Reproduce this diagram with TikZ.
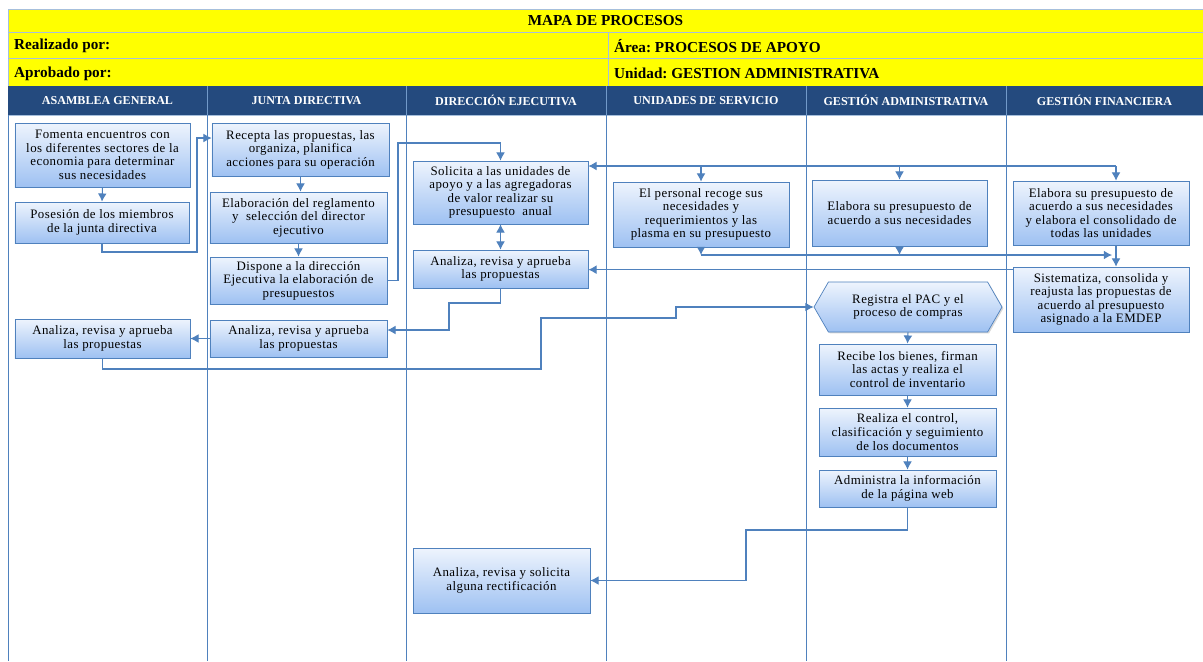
\documentclass[tikz,border=0pt]{standalone}
\usepackage{fontspec}
\setmainfont{Liberation Serif}
\usetikzlibrary{arrows.meta}
\usetikzlibrary{calc}
\usetikzlibrary{shapes.symbols}
\usetikzlibrary{shadows}
\definecolor{lane}{HTML}{4F81BD}
\definecolor{navy}{HTML}{244A7E}
\definecolor{boxtop}{HTML}{EEF4FD}
\definecolor{boxbot}{HTML}{9EC1F2}
\definecolor{grid}{HTML}{A6BFDC}
\definecolor{headyellow}{HTML}{FFFF00}
\newfontfamily\boxfont[LetterSpace=3.5]{Liberation Serif}
\frenchspacing

\begin{document}
\begin{tikzpicture}[x=0.03cm,y=-0.03cm,>={Latex[length=7pt,width=7.5pt]},
  pbox/.style={draw=lane,line width=0.6pt,top color=boxtop,bottom color=boxbot,
    align=center,inner sep=1pt,font=\boxfont\fontsize{11}{11.6}\selectfont,
    drop shadow={opacity=0.3,shadow xshift=1.2pt,shadow yshift=-1.2pt}},
  flow/.style={draw=lane,line width=0.9pt},
  yelltext/.style={font=\fontsize{13}{15}\selectfont\bfseries,inner sep=0pt},
  lanehead/.style={font=\fontsize{10.3}{12}\selectfont\bfseries,text=white,inner sep=0pt}]
\useasboundingbox[fill=white] (0,0) rectangle (1203,661);

% cabecera
\fill[headyellow] (8,9) rectangle (1203,86);
\foreach \y in {9,32,58}{
\draw[grid,line width=0.8pt] (8,\y) -- (1203,\y);
}
\draw[grid,line width=0.8pt] (8,9) -- (8,86);
\draw[grid,line width=0.8pt] (608,32) -- (608,86);
\node[yelltext] (title) at (605.5,21) {MAPA DE PROCESOS};
\node[yelltext,anchor=west] (realiz) at (14,46) {Realizado por:};
\node[yelltext,anchor=west] (area) at (614,46) {Área: PROCESOS DE APOYO};
\node[yelltext,anchor=west] (aprob) at (14,73.5) {Aprobado por:};
\node[yelltext,anchor=west] (unidad) at (614,73.5) {Unidad: GESTION ADMINISTRATIVA};

\fill[navy] (8,86) rectangle (1203,115);
\foreach \x in {207,406,606,806,1006}{
\draw[lane!80!white,line width=0.8pt] (\x,86) -- (\x,115);
}
\foreach \x/\t/\n in {107.5/ASAMBLEA GENERAL/hasam,306.5/JUNTA DIRECTIVA/hjunta,
  506/DIRECCIÓN EJECUTIVA/hdir,706/UNIDADES DE SERVICIO/huni,
  906/GESTIÓN ADMINISTRATIVA/hadm,1104.5/GESTIÓN FINANCIERA/hfin}{
\node[lanehead] (\n) at (\x,100.5) {\t};
}

% carriles
\draw[grid,line width=0.6pt] (8,115) -- (1203,115);
\foreach \x in {8,207,406,606,806,1006}{
\draw[lane,line width=0.8pt] (\x,115) -- (\x,661);
}

% asamblea general
\node[pbox,minimum width=5.25cm,minimum height=1.92cm] (A1) at (102.5,155)
  {Fomenta encuentros con\\los diferentes sectores de la\\economia para determinar\\sus necesidades};
\node[pbox,minimum width=5.22cm,minimum height=1.23cm] (A2) at (102,222.5)
  {Posesión de los miembros\\de la junta directiva};
\node[pbox,minimum width=5.25cm,minimum height=1.17cm] (A3) at (102.5,338.5)
  {Analiza, revisa y aprueba\\las propuestas};

% junta directiva
\node[pbox,minimum width=5.31cm,minimum height=1.59cm] (J1) at (300.5,149.5)
  {Recepta las propuestas, las\\organiza, planifica\\acciones para su operación};
\node[pbox,minimum width=5.31cm,minimum height=1.53cm] (J2) at (298.5,217.5)
  {Elaboración del reglamento\\y \ selección del director\\ejecutivo};
\node[pbox,minimum width=5.31cm,minimum height=1.41cm] (J3) at (298.5,280.5)
  {Dispone a la dirección\\Ejecutiva la elaboración de\\presupuestos};
\node[pbox,minimum width=5.31cm,minimum height=1.11cm] (J4) at (298.5,338.5)
  {Analiza, revisa y aprueba\\las propuestas};

% direccion ejecutiva
\node[pbox,minimum width=5.25cm,minimum height=1.89cm] (D1) at (500.5,192.5)
  {Solicita a las unidades de\\apoyo y a las agregadoras\\de valor realizar su\\presupuesto \ anual};
\node[pbox,minimum width=5.25cm,minimum height=1.14cm] (D2) at (500.5,269)
  {Analiza, revisa y aprueba\\las propuestas};
\node[pbox,minimum width=5.31cm,minimum height=1.95cm] (D3) at (501.5,580.5)
  {Analiza, revisa y solicita\\alguna rectificación};

% unidades de servicio
\node[pbox,minimum width=5.28cm,minimum height=1.95cm] (U1) at (701,214.5)
  {El personal recoge sus\\necesidades y\\requerimientos y las\\plasma en su presupuesto};

% gestion administrativa
\node[pbox,minimum width=5.25cm,minimum height=1.98cm] (G1) at (899.5,213)
  {Elabora su presupuesto de\\acuerdo a sus necesidades};
\node[pbox,shape=signal,signal to=west and east,signal pointer angle=120,
  minimum width=5.64cm,minimum height=1.5cm] (G2) at (908,307)
  {Registra el PAC y el\\proceso de compras};
\node[pbox,minimum width=5.31cm,minimum height=1.53cm] (G3) at (907.5,369.5)
  {Recibe los bienes, firman\\las actas y realiza el\\control de inventario};
\node[pbox,minimum width=5.31cm,minimum height=1.44cm] (G4) at (907.5,432)
  {Realiza el control,\\clasificación y seguimiento\\de los documentos};
\node[pbox,minimum width=5.31cm,minimum height=1.11cm] (G5) at (907.5,488.5)
  {Administra la información\\de la página web};

% gestion financiera
\node[pbox,minimum width=5.28cm,minimum height=1.92cm] (F1) at (1101,213)
  {Elabora su presupuesto de\\acuerdo a sus necesidades\\y elabora el consolidado de\\todas las unidades};
\node[pbox,minimum width=5.28cm,minimum height=1.95cm] (F2) at (1101,299.5)
  {Sistematiza, consolida y\\reajusta las propuestas de\\acuerdo al presupuesto\\asignado a la EMDEP};

% conectores
\coordinate (k1) at (197,252);
\coordinate (k2) at (398,143);
\coordinate (k3) at (449,303);
\coordinate (k4) at (541,369);
\coordinate (k5) at (676,318);
\coordinate (k6) at (1116,166);
\coordinate (k7) at (1112,255);
\coordinate (k8) at ($(F2.north west)+(0,3)$);
\coordinate (k9) at (746,530);

\draw[flow,->] (A1.south) -- (A2.north);
\draw[flow,->] (A2.south) |- (k1) |- ($(J1.west)+(0,-11.5)$);
\draw[flow,->] (J1.south) -- (J1.south |- J2.north);
\draw[flow,->] (J2.south) -- (J3.north);
\draw[flow,->] (J3.east) -| (k2) -| (D1.north);
\draw[flow,<->] (D1.south) -- (D2.north);
\draw[flow,->] (D2.south) |- (k3) |- ($(J4.east)+(0,-8.5)$);
\draw[flow,->] (J4.west) -- (A3.east);
\draw[flow,->] (A3.south) |- (k4) |- (k5) |- (G2.west);

\draw[flow,->] (k6) -- (k6 -| D1.east);
\draw[flow,->] (U1.north |- k6) -- (U1.north);
\draw[flow,->] (G1.north |- k6) -- (G1.north);
\draw[flow,->] (k6) -- (k6 |- F1.north);

\draw[flow,->] (U1.south) -- (U1.south |- k7);
\draw[flow,->] (U1.south |- k7) -- (k7);
\draw[flow,->] (G1.south) -- (G1.south |- k7);
\draw[flow,->] (k6 |- F1.south) -- (k6 |- F2.north);
\draw[flow,->] (k8) -- (k8 -| D2.east);

\draw[flow,->] (G2.south) -- (G3.north);
\draw[flow,->] (G3.south) -- (G4.north);
\draw[flow,->] (G4.south) -- (G5.north);
\draw[flow,->] (G5.south) |- (k9) |- (D3.east);
\end{tikzpicture}
\end{document}
